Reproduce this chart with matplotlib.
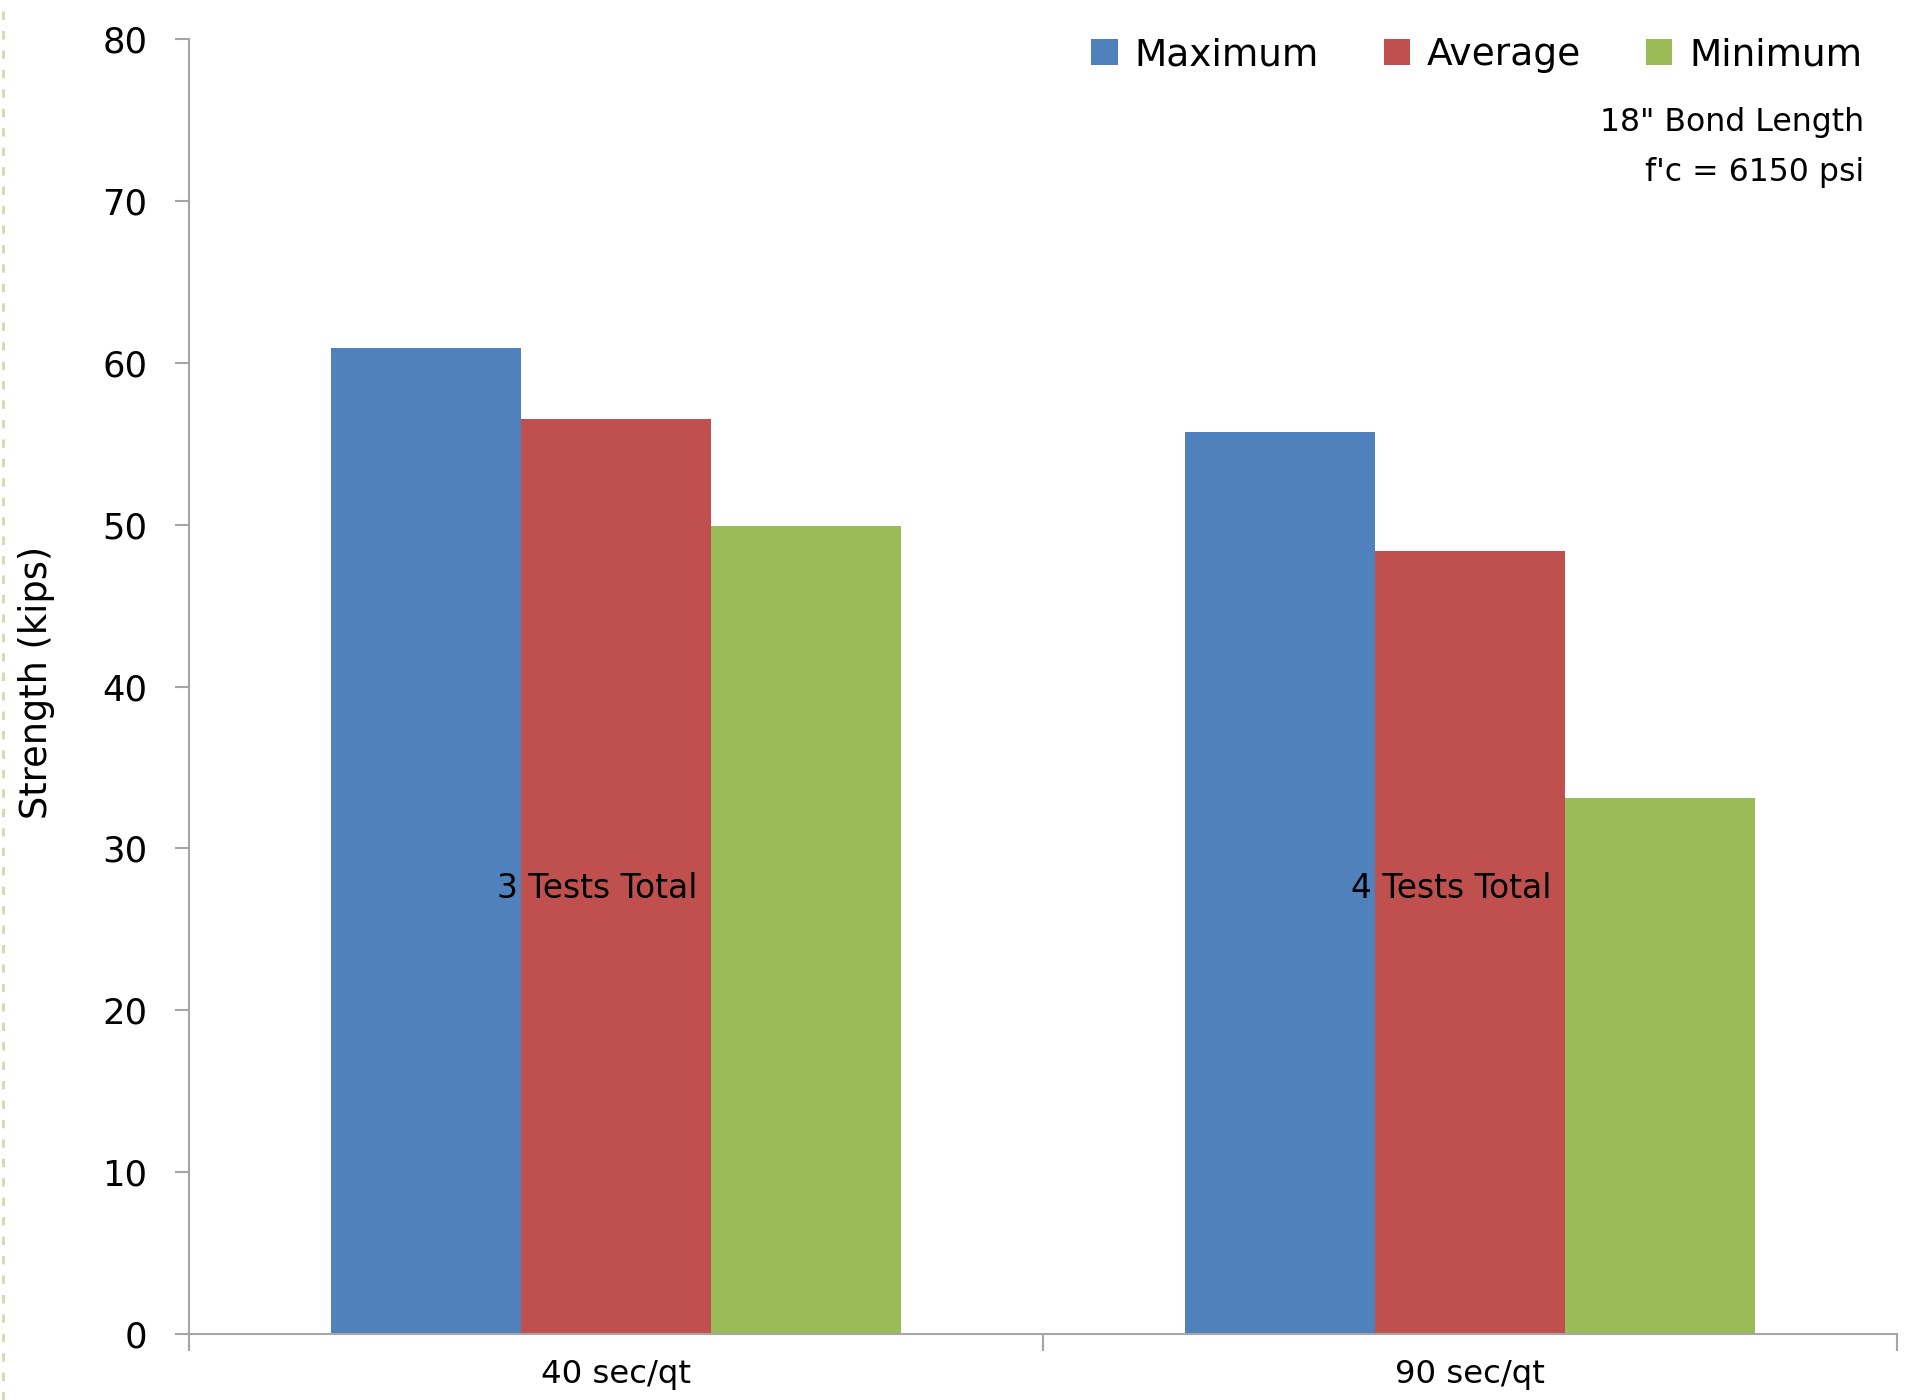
import matplotlib
matplotlib.use("Agg")
import matplotlib.pyplot as plt
from matplotlib.lines import Line2D
import numpy as np

# data
categories = ["40 sec/qt", "90 sec/qt"]
series_names = ["Maximum", "Average", "Minimum"]
maximum = [60.9, 55.7]
average = [56.5, 48.4]
minimum = [49.9, 33.1]
test_notes = ["3 Tests Total", "4 Tests Total"]
colors = ["#4f81bd", "#c0504d", "#9bbb59"]

plt.rcParams['font.family'] = ['DejaVu Sans']

fig = plt.figure(figsize=(19.15, 14), dpi=100)
ax = fig.add_axes([0.0987, 0.0471, 0.8919, 0.9250])

x = np.arange(len(categories)) + 0.5
w = 0.2225
for i, (vals, name) in enumerate(zip([maximum, average, minimum], series_names)):
    ax.bar(x + (i - 1) * w, vals, width=w, color=colors[i], label=name,
           linewidth=0, zorder=2)

ax.set_xlim(0, len(categories))
ax.set_ylim(0, 80)
ax.set_yticks(np.arange(0, 81, 10))
ax.tick_params(axis='y', labelsize=25.5, length=10, width=1.5, color='#a6a6a6',
               pad=20)

# category ticks at the boundaries, labels in the middle
ax.set_xticks(np.arange(len(categories) + 1))
ax.set_xticklabels([])
ax.tick_params(axis='x', which='major', length=12, width=1.5, color='#a6a6a6')
ax.set_xticks(x, minor=True)
ax.set_xticklabels(categories, minor=True, fontsize=23.3)
ax.tick_params(axis='x', which='minor', length=0, pad=18)

for s in ['top', 'right']:
    ax.spines[s].set_visible(False)
for s in ['left', 'bottom']:
    ax.spines[s].set_color('#a6a6a6')
    ax.spines[s].set_linewidth(1.5)

ax.set_ylabel("Strength (kips)", fontsize=26.5, va='center')
ax.yaxis.set_label_coords(-0.0894, 0.503)

# notes on the bars
for xi, note in zip(x, test_notes):
    ax.text(xi - 0.022, 27.5, note, fontsize=23.7, ha='center', va='center', zorder=3)

fig.legend(loc='center right', bbox_to_anchor=(1862 / 1915, 1 - 55 / 1400),
           ncol=3, frameon=False, fontsize=27, handlelength=0.7,
           handleheight=0.7, handletextpad=0.45, columnspacing=1.73,
           borderpad=0, borderaxespad=0)

fig.text(1864 / 1915, 1 - 123 / 1400, "18\" Bond Length", fontsize=22.7,
         ha='right', va='center')
fig.text(1864 / 1915, 1 - 172 / 1400, "f'c = 6150 psi", fontsize=22.7,
         ha='right', va='center')

# faint dashed page border on the left edge
fig.add_artist(Line2D([0.0015, 0.0015], [0, 1], transform=fig.transFigure,
                      color='#d6d6b0', lw=2, linestyle=(0, (3, 4))))

fig.savefig("out.png", dpi=100, facecolor='white')
